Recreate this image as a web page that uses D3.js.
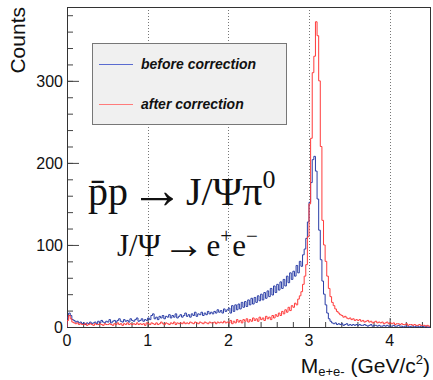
<!DOCTYPE html>
<html>
<head>
<meta charset="utf-8">
<script src="https://cdn.jsdelivr.net/npm/d3@7"></script>
<style>
    body { margin: 0; background: #fff; }
    #chart { width: 433px; height: 380px; }
    .axis-label { font-family: "Liberation Sans", Arial, sans-serif; font-size: 16px; fill: #111; }
    .formula { font-family: "Liberation Serif", "DejaVu Serif", serif; fill: #111; }
</style>
</head>
<body>
<div id="chart"></div>
<script>

// histogram bins: 0.02 GeV/c^2 wide, starting at 0
const binWidth = 0.02;
const xTicks = [0, 1, 2, 3, 4];
const yTicks = [0, 100, 200, 300];
const gridLines = [1, 2, 3, 4];
const legendLabels = ["before correction", "after correction"];

const beforeCorrection = [
    12, 17, 14, 9, 8,    6, 7, 5, 6, 4,     5, 3, 5, 4, 6,      4, 5, 6, 4, 7,
    5, 8, 6, 5, 7,       6, 9, 5, 7, 8,     6, 8, 10, 7, 6,     9, 7, 8, 6, 10,
    8, 7, 9, 11, 7,      8, 10, 7, 9, 8,    11, 9, 14, 16, 10,  12, 9, 13, 11, 14,
    10, 13, 12, 15, 11,  14, 12, 16, 11, 13, 15, 12, 14, 17, 13, 15, 12, 16, 14, 18,
    13, 16, 15, 18, 14,  17, 15, 19, 16, 18, 16, 19, 17, 21, 18, 20, 17, 22, 19, 21,
    23, 17, 26, 19, 27,  21, 28, 22, 30, 24, 31, 25, 33, 27, 35, 28, 36, 30, 38, 32,
    40, 33, 42, 35, 44,  37, 47, 39, 50, 42, 52, 45, 55, 47, 58, 50, 62, 54, 66, 58,
    68, 62, 75, 66, 80,  74, 88, 95, 108, 128, 152, 176, 204, 208, 190, 156, 118, 82, 56, 40,
    27, 17, 10, 7, 5,    4, 5, 3, 4, 3,     4, 2, 3, 4, 2,      3, 2, 3, 2, 3,
    2, 3, 2, 2, 3,       2, 1, 2, 3, 1,     2, 2, 1, 2, 1,      1, 2, 1, 2, 1,
    1, 1, 2, 1, 1,       2, 1, 1, 0, 1,     1, 1, 0, 1, 1,      0, 1, 1, 0, 1,
    1, 0, 1, 0, 0
];

const afterCorrection = [
    8, 14, 10, 6, 5,     4, 5, 3, 4, 3,     3, 4, 2, 3, 4,      3, 2, 4, 3, 3,
    4, 3, 2, 4, 3,       3, 4, 3, 2, 4,     3, 5, 3, 4, 2,      4, 3, 5, 3, 4,
    3, 4, 3, 5, 3,       4, 3, 4, 2, 5,     4, 3, 5, 4, 3,      5, 3, 4, 6, 4,
    3, 5, 4, 3, 5,       4, 6, 3, 5, 4,     5, 4, 6, 4, 5,      4, 6, 5, 4, 6,
    5, 4, 6, 5, 4,       6, 5, 4, 6, 5,     5, 6, 4, 6, 5,      6, 5, 7, 5, 6,
    5, 8, 4, 7, 5,       9, 6, 8, 5, 9,     7, 10, 6, 9, 7,     11, 8, 10, 7, 12,
    9, 11, 8, 13, 10,    12, 9, 14, 11, 15, 13, 17, 14, 19, 16, 21, 18, 24, 20, 26,
    24, 29, 27, 34, 38,  43, 52, 62, 76, 110, 150, 230, 310, 330, 372, 355, 300, 220, 130, 100,
    80, 62, 47, 37, 30,  26, 22, 19, 17, 15, 14, 12, 13, 11, 10, 11, 9, 10, 8, 9,
    8, 9, 7, 8, 6,       7, 8, 6, 7, 5,     6, 7, 5, 6, 5,      6, 4, 5, 6, 4,
    5, 4, 5, 3, 4,       4, 3, 4, 3, 3,     4, 2, 3, 3, 2,      3, 2, 2, 3, 2,
    2, 2, 1, 2, 1
];

const seriesColors = ["#2a3da6", "#ff3b3b"];
const legendColors = ["#5a6bd0", "#ff7b7b"];


class HistVis
{
    constructor(parentElement, series)
    {
        this.parentElement = parentElement;
        this.series = series;
        this.initVis();
    }

    initVis()
    {
        let vis = this;
        vis.margin = {top: 7, right: 3, bottom: 53, left: 67};
        vis.width = 433 - vis.margin.left - vis.margin.right;
        vis.height = 380 - vis.margin.top - vis.margin.bottom;

        vis.svg = d3.select(vis.parentElement)
            .append("svg")
            .attr("width", 433)
            .attr("height", 380)
            .append("g")
            .attr("transform", `translate(${vis.margin.left}, ${vis.margin.top})`);

        vis.xScale = d3.scaleLinear().domain([0, 4.5]).range([0, vis.width]);
        vis.yScale = d3.scaleLinear().domain([0, 390]).range([vis.height, 0]);

        // dotted grid at integer masses
        vis.svg.selectAll(".grid")
            .data(gridLines)
            .enter()
            .append("line")
            .attr("class", "grid")
            .attr("x1", d => Math.round(vis.xScale(d)) + 0.5)
            .attr("x2", d => Math.round(vis.xScale(d)) + 0.5)
            .attr("y1", 0)
            .attr("y2", vis.height)
            .attr("stroke", "#777")
            .attr("stroke-width", 1)
            .attr("stroke-dasharray", "1,2");

        vis.svg.append("clipPath")
            .attr("id", "frameClip")
            .append("rect")
            .attr("width", vis.width)
            .attr("height", vis.height + 1);

        vis.createLegend();
        vis.createAxes();
        vis.createText();
        vis.updateVis();
    }

    createAxes()
    {
        let vis = this;

        // ticks drawn inside the frame, ROOT style
        vis.xAxis = d3.axisTop(vis.xScale)
            .tickValues(d3.range(0, 4.51, 0.2))
            .tickSize(5)
            .tickFormat("");
        vis.svg.append("g")
            .attr("class", "x-minor")
            .attr("transform", `translate(0, ${vis.height})`)
            .call(vis.xAxis);

        vis.svg.append("g")
            .attr("class", "x-major")
            .attr("transform", `translate(0, ${vis.height})`)
            .call(d3.axisTop(vis.xScale).tickValues(xTicks).tickSize(9).tickFormat(""));

        vis.yAxis = d3.axisRight(vis.yScale)
            .tickValues(d3.range(0, 391, 20))
            .tickSize(6)
            .tickFormat("");
        vis.svg.append("g")
            .attr("class", "y-minor")
            .call(vis.yAxis);

        vis.svg.append("g")
            .attr("class", "y-major")
            .call(d3.axisRight(vis.yScale).tickValues(yTicks).tickSize(12).tickFormat(""));

        vis.svg.selectAll(".x-minor path, .x-major path, .y-minor path, .y-major path").remove();
        vis.svg.selectAll(".tick line").attr("stroke", "#444");

        vis.svg.selectAll(".xlab")
            .data(xTicks)
            .enter()
            .append("text")
            .attr("class", "axis-label xlab")
            .attr("x", d => vis.xScale(d))
            .attr("y", vis.height + 19)
            .attr("text-anchor", "middle")
            .text(d => d);

        vis.svg.selectAll(".ylab")
            .data(yTicks)
            .enter()
            .append("text")
            .attr("class", "axis-label ylab")
            .attr("x", -4)
            .attr("y", d => vis.yScale(d) + 6)
            .attr("text-anchor", "end")
            .text(d => d);

        // frame
        vis.svg.append("rect")
            .attr("x", 0.5)
            .attr("y", 0.5)
            .attr("width", vis.width)
            .attr("height", vis.height)
            .attr("fill", "none")
            .attr("stroke", "#333");

        vis.svg.append("text")
            .attr("transform", "translate(-42, 0) rotate(-90)")
            .attr("text-anchor", "end")
            .attr("font-family", "Liberation Sans, Arial, sans-serif")
            .attr("font-size", 21)
            .attr("fill", "#111")
            .text("Counts");

        let xt = vis.svg.append("text")
            .attr("x", vis.width)
            .attr("y", vis.height + 46)
            .attr("text-anchor", "end")
            .attr("font-family", "Liberation Sans, Arial, sans-serif")
            .attr("font-size", 21)
            .attr("fill", "#111");
        xt.append("tspan").text("M");
        xt.append("tspan").attr("font-size", 13).attr("dy", 3).text("e+e-");
        xt.append("tspan").attr("dy", -3).text(" (GeV/c");
        xt.append("tspan").attr("font-size", 13).attr("dy", -9).text("2");
        xt.append("tspan").attr("dy", 9).text(")");
    }

    createText()
    {
        let vis = this;

        let t1 = vis.svg.append("text")
            .attr("class", "formula")
            .attr("x", 21)
            .attr("y", 198)
            .attr("font-size", 40);
        t1.append("tspan").text("p\u0304p");
        t1.append("tspan").attr("font-size", 54).attr("dx", 2).attr("dy", 3).text("\u2192");
        t1.append("tspan").attr("dx", 2).attr("dy", -3).text("J/\u03A8\u03C0");
        t1.append("tspan").attr("font-size", 26).attr("dy", -17).text("0");

        let t2 = vis.svg.append("text")
            .attr("class", "formula")
            .attr("x", 50)
            .attr("y", 249)
            .attr("font-size", 31);
        t2.append("tspan").text("J/\u03A8");
        t2.append("tspan").attr("font-size", 42).attr("dx", 2).attr("dy", 2).text("\u2192");
        t2.append("tspan").attr("dx", 2).attr("dy", -2).text("e");
        t2.append("tspan").attr("font-size", 21).attr("dy", -13).text("+");
        t2.append("tspan").attr("dy", 13).text("e");
        t2.append("tspan").attr("font-size", 21).attr("dy", -13).text("\u2212");
    }

    createLegend()
    {
        let vis = this;
        let lg = vis.svg.append("g")
            .attr("transform", `translate(${92 - vis.margin.left}, ${43 - vis.margin.top})`);

        lg.append("rect")
            .attr("x", 0.5)
            .attr("y", 0.5)
            .attr("width", 194)
            .attr("height", 81)
            .attr("fill", "#f0f0f0")
            .attr("stroke", "#777");

        legendLabels.forEach(function (label, i) {
            let y = 21 + i * 40;
            lg.append("line")
                .attr("x1", 7)
                .attr("x2", 41)
                .attr("y1", y + 0.5)
                .attr("y2", y + 0.5)
                .attr("stroke", legendColors[i])
                .attr("stroke-width", 1);
            lg.append("text")
                .attr("x", 49)
                .attr("y", y + 5)
                .attr("font-family", "Liberation Sans, Arial, sans-serif")
                .attr("font-size", 14)
                .attr("font-weight", "bold")
                .attr("font-style", "italic")
                .attr("fill", "#111")
                .text(label);
        });
    }

    updateVis()
    {
        let vis = this;

        let line = d3.line()
            .x(d => vis.xScale(d[0]))
            .y(d => vis.yScale(d[1]))
            .curve(d3.curveStepAfter);

        vis.series.forEach(function (values, s) {
            let pts = values.map((v, i) => [i * binWidth, v]);
            pts.unshift([0, 0]);
            pts.push([values.length * binWidth, values[values.length - 1]]);

            vis.svg.append("path")
                .attr("class", "hist")
                .attr("clip-path", "url(#frameClip)")
                .attr("d", line(pts))
                .attr("fill", "none")
                .attr("stroke", seriesColors[s])
                .attr("stroke-width", 1);
        });
    }
}

new HistVis(document.getElementById("chart"), [beforeCorrection, afterCorrection]);

</script>
</body>
</html>
